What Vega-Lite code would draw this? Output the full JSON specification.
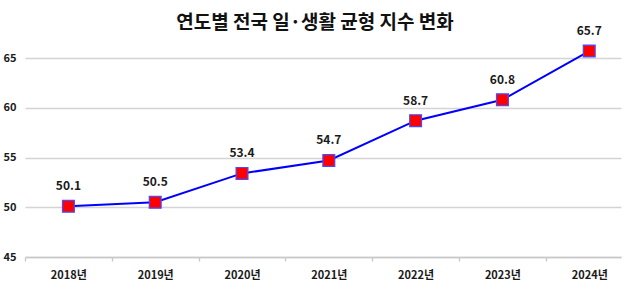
{
  "$schema": "https://vega.github.io/schema/vega-lite/v6.json",
  "width": 596,
  "height": 199,
  "autosize": {"type": "none"},
  "padding": {"left": 25, "top": 58, "right": 22, "bottom": 38},
  "background": "white",
  "config": {
    "font": "Noto Sans CJK KR",
    "view": {"stroke": null}
  },
  "title": {
    "text": "연도별 전국 일·생활 균형 지수 변화",
    "font": "Noto Sans CJK KR",
    "fontSize": 19,
    "fontWeight": "bold",
    "color": "#111111",
    "anchor": "middle",
    "offset": 0,
    "dy": 8,
    "dx": -8
  },
  "data": {
    "values": [
      {"year": 2018, "index": 50.1},
      {"year": 2019, "index": 50.5},
      {"year": 2020, "index": 53.4},
      {"year": 2021, "index": 54.7},
      {"year": 2022, "index": 58.7},
      {"year": 2023, "index": 60.8},
      {"year": 2024, "index": 65.7}
    ]
  },
  "encoding": {
    "x": {
      "field": "year",
      "type": "quantitative",
      "scale": {"domain": [2017.5, 2024.366], "nice": false, "zero": false},
      "axis": {
        "title": null,
        "values": [2017.5, 2018.5, 2019.5, 2020.5, 2021.5, 2022.5, 2023.5],
        "labelExpr": "(datum.value + 0.5) + '년'",
        "labelOffset": 43.4,
        "domain": true,
        "domainColor": "#c8c8c8",
        "domainWidth": 1.3,
        "labelAngle": 0,
        "ticks": true,
        "tickSize": 4,
        "tickColor": "#c8c8c8",
        "tickWidth": 1.3,
        "labelPadding": 8,
        "labelFontSize": 11,
        "labelFontWeight": "bold",
        "labelColor": "#1a1a1a",
        "labelFlush": false,
        "labelOverlap": false,
        "grid": false
      }
    },
    "y": {
      "field": "index",
      "type": "quantitative",
      "scale": {"domain": [45, 65], "nice": false, "zero": false},
      "axis": {
        "title": null,
        "values": [50, 55, 60, 65, 45],
        "domain": false,
        "ticks": false,
        "grid": true,
        "gridColor": "#d4d4d4",
        "gridWidth": 1.3,
        "labelPadding": 9,
        "labelFontSize": 11,
        "labelFontWeight": "bold",
        "labelColor": "#1a1a1a"
      }
    }
  },
  "layer": [
    {
      "mark": {"type": "line", "color": "#0000ff", "strokeWidth": 2}
    },
    {
      "mark": {
        "type": "point",
        "shape": "square",
        "filled": true,
        "size": 140,
        "fill": "#ff0000",
        "stroke": "#4a4aff",
        "strokeWidth": 1.2,
        "opacity": 1
      }
    },
    {
      "mark": {
        "type": "text",
        "dy": -20,
        "baseline": "middle",
        "fontSize": 12,
        "fontWeight": "bold",
        "color": "#1a1a1a"
      },
      "encoding": {
        "text": {"field": "index", "type": "quantitative", "format": ".1f"}
      }
    }
  ]
}
